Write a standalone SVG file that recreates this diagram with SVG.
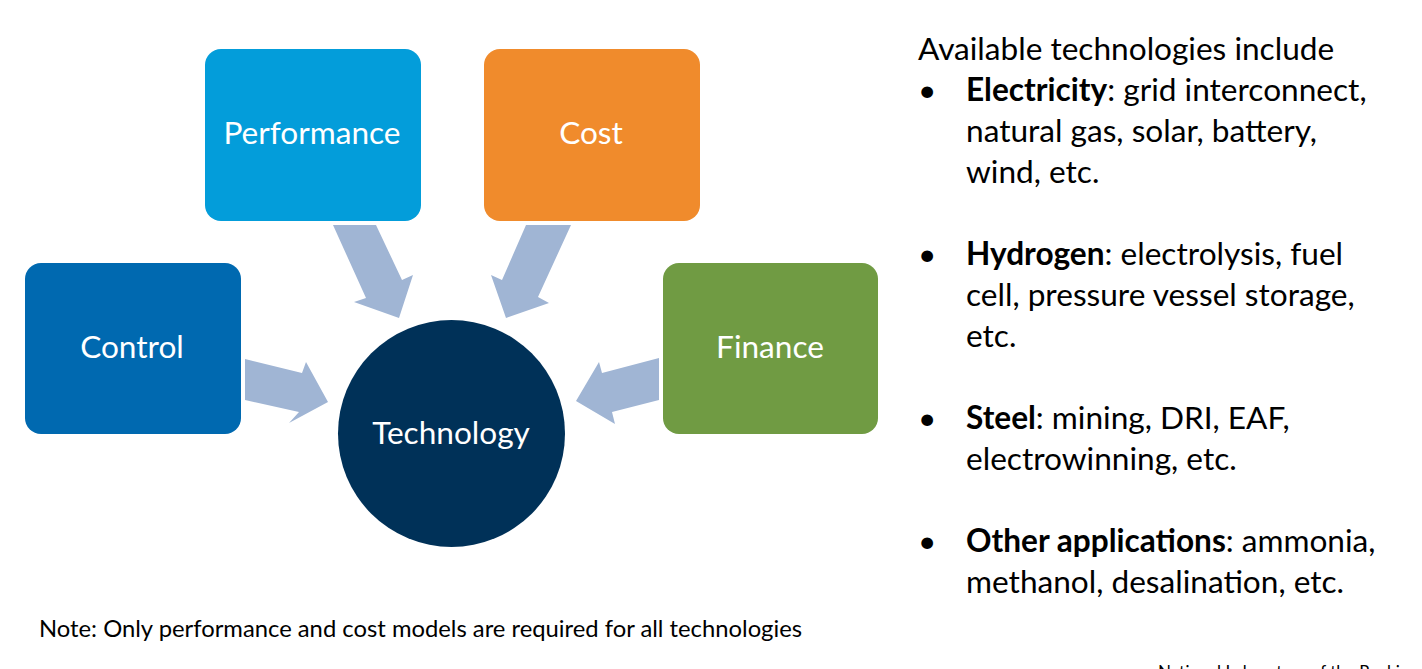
<svg xmlns="http://www.w3.org/2000/svg" width="1422" height="669" viewBox="0 0 1422 669">
<style>
.node-label{font-family:Lato,"Open Sans",sans-serif;font-size:31.6px;fill:#ffffff;text-anchor:middle}
.arrow{fill:#A0B5D4}
.body{font-family:Lato,"Open Sans",sans-serif;font-size:31.6px;fill:#000000}
.b{font-weight:bold}
</style>
<rect width="1422" height="669" fill="#ffffff"/>
<g id="connectors">
<polygon class="arrow" points="333,225 376,225 402,280 413,275 399,318 354,302 366,298"/>
<polygon class="arrow" points="526,225 571,225 538,297 549,303 506,318 491,275 502,280"/>
<polygon class="arrow" points="245,359 302,373 306,362 328,402 289,423 299,412 245,400"/>
<polygon class="arrow" points="659,358 602,373 599,362 576,401 615,424 612,412 659,400"/>
</g>
<g id="performance">
<rect x="205" y="49" width="216" height="172" rx="16" fill="#039DDA"/>
<text class="node-label" x="312" y="144">Performance</text>
</g>
<g id="cost">
<rect x="484" y="49" width="216" height="172" rx="16" fill="#F08B2C"/>
<text class="node-label" x="591" y="144">Cost</text>
</g>
<g id="control">
<rect x="25" y="263" width="216" height="171" rx="16" fill="#0069B0"/>
<text class="node-label" x="132" y="358">Control</text>
</g>
<g id="finance">
<rect x="663" y="263" width="215" height="171" rx="16" fill="#709B43"/>
<text class="node-label" x="770" y="358">Finance</text>
</g>
<g id="technology">
<circle cx="451.5" cy="433.5" r="113.5" fill="#003158"/>
<text class="node-label" x="451" y="444">Technology</text>
</g>
<g id="tech-list">
<text class="body" x="918" y="60">Available technologies include</text>
<text class="body" x="918" y="101">•</text>
<text class="body" x="966" y="101"><tspan class="b">Electricity</tspan>: grid interconnect,</text>
<text class="body" x="966" y="142">natural gas, solar, battery,</text>
<text class="body" x="966" y="183">wind, etc.</text>
<text class="body" x="918" y="265">•</text>
<text class="body" x="966" y="265"><tspan class="b">Hydrogen</tspan>: electrolysis, fuel</text>
<text class="body" x="966" y="306">cell, pressure vessel storage,</text>
<text class="body" x="966" y="347">etc.</text>
<text class="body" x="918" y="429">•</text>
<text class="body" x="966" y="429"><tspan class="b">Steel</tspan>: mining, DRI, EAF,</text>
<text class="body" x="966" y="470">electrowinning, etc.</text>
<text class="body" x="918" y="552">•</text>
<text class="body" x="966" y="552"><tspan class="b">Other applications</tspan>: ammonia,</text>
<text class="body" x="966" y="593">methanol, desalination, etc.</text>
</g>
<text x="39" y="637" font-family="Lato,'Open Sans',sans-serif" font-size="23.8" fill="#000000">Note: Only performance and cost models are required for all technologies</text>
<text x="1158" y="678" font-family="Lato,'Open Sans',sans-serif" font-size="17" fill="#000000">National Laboratory of the Rockies</text>
</svg>
